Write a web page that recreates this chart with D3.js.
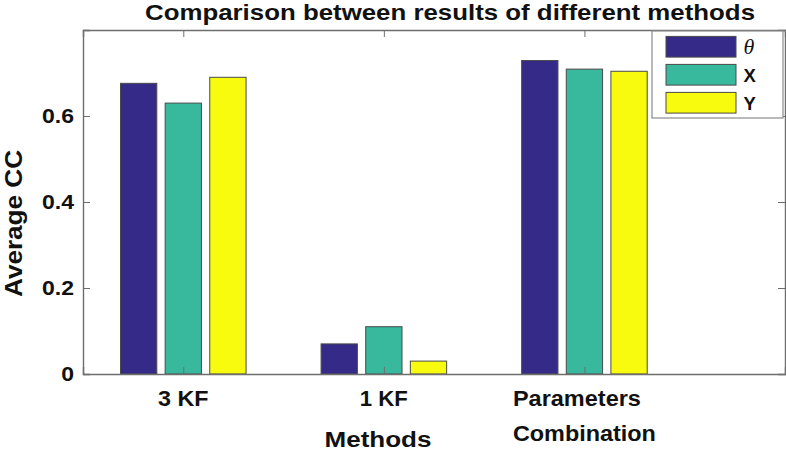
<!DOCTYPE html>
<html>
<head>
<meta charset="utf-8">
<script src="https://cdn.jsdelivr.net/npm/d3@7"></script>
<style>
  html, body { margin: 0; padding: 0; background: #fff; }
  svg { display: block; }
  text { font-family: "Liberation Sans", Arial, Helvetica, sans-serif; font-weight: bold; fill: #111; }
</style>
</head>
<body>
<svg id="chart" width="786" height="452"></svg>
<script>
// ---- data ----
const categories = ["3 KF", "1 KF", "Parameters\nCombination"];
const seriesNames = ["θ", "X", "Y"];
const thetaValues = [0.676, 0.070, 0.729];
const xValues     = [0.630, 0.110, 0.709];
const yValues     = [0.690, 0.030, 0.704];
const yTicks = [0, 0.2, 0.4, 0.6];
const title = "Comparison between results of different methods";
const xLabel = "Methods";
const yLabelText = "Average CC";

const seriesValues = [thetaValues, xValues, yValues];
const colors = ["#352a87", "#38b99e", "#f9fb0e"];

// ---- layout ----
const svg = d3.select("#chart");
const L = 83, R = 785, T = 30, B = 374;
const x = d3.scaleLinear().domain([0.5, 4.0]).range([L, R]);
const y = d3.scaleLinear().domain([0, 0.8]).range([B, T]);
const barOffset = 0.2225, barWidth = 0.181;
const axisColor = "#6e6e6e";

// bars
const g = svg.append("g");
seriesValues.forEach((vals, s) => {
  g.selectAll(null).data(vals).enter().append("rect")
    .attr("x", (d, i) => x(i + 1 + (s - 1) * barOffset - barWidth / 2))
    .attr("width", x(barWidth) - x(0))
    .attr("y", d => y(d))
    .attr("height", d => y(0) - y(d))
    .attr("fill", colors[s])
    .attr("stroke", "#4a4a4a")
    .attr("stroke-width", 1);
});

// axes frame & ticks
const catTicks = categories.map((c, i) => i + 1);
const axL = svg.append("g").attr("transform", `translate(${L},0)`)
  .call(d3.axisLeft(y).tickValues(yTicks).tickSize(-7).tickPadding(9).tickFormat(d => d === 0 ? "0" : d3.format(".1f")(d)));
const axR = svg.append("g").attr("transform", `translate(${R},0)`)
  .call(d3.axisRight(y).tickValues(yTicks).tickSize(-7).tickFormat(""));
const axB = svg.append("g").attr("transform", `translate(0,${B})`)
  .call(d3.axisBottom(x).tickValues(catTicks).tickSize(-7).tickFormat(""));
const axT = svg.append("g").attr("transform", `translate(0,${T})`)
  .call(d3.axisTop(x).tickValues(catTicks).tickSize(-7).tickFormat(""));
[axL, axR, axB, axT].forEach(a => {
  a.selectAll("path.domain").attr("stroke", axisColor).attr("stroke-width", 1.4);
  a.selectAll(".tick line").attr("stroke", axisColor).attr("stroke-width", 1);
});
axL.selectAll(".tick text")
  .style("font-size", "19.5px").style("font-weight", "bold").attr("fill", "#111")
  .style("font-family", '"Liberation Sans", Arial, sans-serif')
  .each(function () {
    const w = this.getComputedTextLength();
    d3.select(this).attr("textLength", w * 1.18).attr("lengthAdjust", "spacingAndGlyphs");
  });

// category labels
const catWidths = [[50.5], [48], [128, 143]];
categories.forEach((c, i) => {
  const lines = c.split("\n");
  const cx = x(i + 1);
  if (lines.length === 1) {
    svg.append("text").attr("x", cx).attr("y", 406).attr("text-anchor", "middle")
      .style("font-size", "21.5px")
      .attr("textLength", catWidths[i][0]).attr("lengthAdjust", "spacingAndGlyphs")
      .text(lines[0]);
  } else {
    const maxW = d3.max(catWidths[i]);
    lines.forEach((ln, k) => {
      svg.append("text").attr("x", cx - maxW / 2).attr("y", 406 + k * 34.7).attr("text-anchor", "start")
        .style("font-size", "21.5px")
        .attr("textLength", catWidths[i][k]).attr("lengthAdjust", "spacingAndGlyphs")
        .text(ln);
    });
  }
});

// axis labels & title
svg.append("text").attr("x", 378).attr("y", 447).attr("text-anchor", "middle")
  .style("font-size", "21.5px").attr("textLength", 107).attr("lengthAdjust", "spacingAndGlyphs")
  .text(xLabel);
svg.append("text").attr("transform", "translate(22,223.5) rotate(-90)").attr("text-anchor", "middle")
  .style("font-size", "24px").attr("textLength", 147).attr("lengthAdjust", "spacingAndGlyphs")
  .text(yLabelText);
svg.append("text").attr("x", 145).attr("y", 19.5).attr("text-anchor", "start")
  .style("font-size", "22px").attr("textLength", 610).attr("lengthAdjust", "spacingAndGlyphs")
  .text(title);

// legend
const leg = svg.append("g");
leg.append("rect").attr("x", 652).attr("y", 31).attr("width", 131).attr("height", 87)
  .attr("fill", "#fff").attr("stroke", "#8a8a8a").attr("stroke-width", 1.2);
seriesNames.forEach((n, s) => {
  const cy = 46.7 + s * 28;
  leg.append("rect").attr("x", 666).attr("y", cy - 10.3).attr("width", 70).attr("height", 20.7)
    .attr("fill", colors[s]).attr("stroke", "#4a4a4a").attr("stroke-width", 1);
  const t = leg.append("text").attr("x", 743.5).attr("y", cy + 7.5).text(n);
  if (s === 0) {
    t.style("font-family", '"Liberation Serif", "Times New Roman", serif')
     .style("font-style", "italic").style("font-weight", "normal").style("font-size", "22px");
  } else {
    t.style("font-size", "18.5px");
  }
});
</script>
</body>
</html>
